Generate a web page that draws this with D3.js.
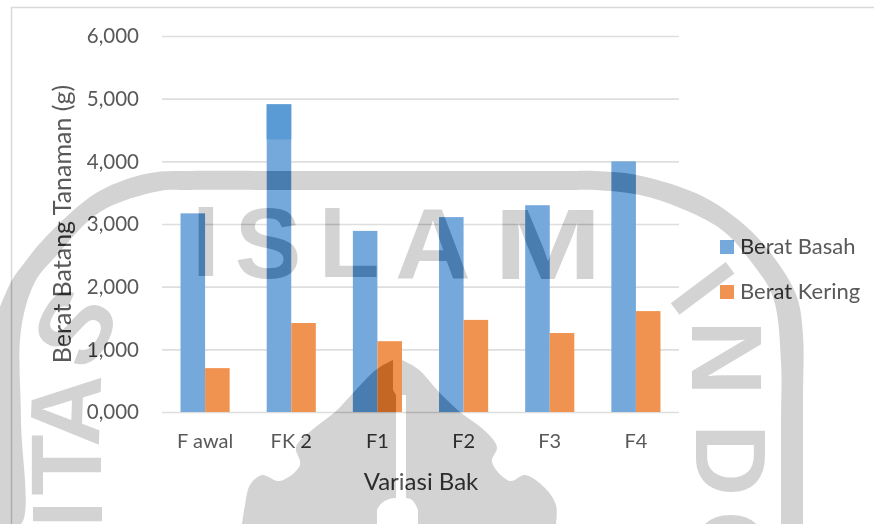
<!DOCTYPE html>
<html>
<head>
<meta charset="utf-8">
<script src="https://cdn.jsdelivr.net/npm/d3@7"></script>
<style>
  html, body { margin: 0; padding: 0; background: #fff; overflow: hidden; }
  svg { display: block; }
  text { font-family: Lato, "Open Sans", sans-serif; fill: #595959; }
</style>
</head>
<body>
<div id="chart"></div>
<script>
const categories = ["F awal", "FK 2", "F1", "F2", "F3", "F4"];
const seriesNames = ["Berat Basah", "Berat Kering"];
const beratBasah = [3.17, 4.91, 2.89, 3.11, 3.30, 4.00];
const beratKering = [0.70, 1.42, 1.13, 1.47, 1.26, 1.61];
const yTicks = [0, 1, 2, 3, 4, 5, 6];

const width = 874, height = 524;
const margin = { top: 36, right: 195, bottom: 112, left: 162 };

const svg = d3.select("#chart")
    .append("svg")
    .attr("width", width)
    .attr("height", height);

svg.append("rect").attr("width", width).attr("height", height).attr("fill", "#fff");

// chart frame, runs off the page on the right and at the bottom
svg.append("path")
    .attr("d", `M11.5,${height} V7.5 H${width}`)
    .attr("fill", "none")
    .attr("stroke", "#d9d9d9")
    .attr("stroke-width", 1.5);

const x = d3.scaleBand()
    .domain(categories)
    .range([margin.left, width - margin.right])
    .paddingInner(0.43)
    .paddingOuter(0.215);

const xSeries = d3.scaleBand()
    .domain(seriesNames)
    .range([0, x.bandwidth()]);

const y = d3.scaleLinear()
    .domain([0, 6])
    .range([height - margin.bottom, margin.top]);

const color = d3.scaleOrdinal()
    .domain(seriesNames)
    .range(["#75a9dc", "#f09250"]);

// decimal comma on the ticks
const fmt = d3.formatLocale({ decimal: ",", thousands: ".", grouping: [3], currency: ["", ""] }).format(".3f");

// gridlines
const yAxis = svg.append("g")
    .attr("transform", `translate(${margin.left},0)`)
    .call(d3.axisLeft(y).tickValues(yTicks).tickFormat(fmt).tickSize(-(width - margin.left - margin.right)).tickPadding(23));
yAxis.select(".domain").remove();
yAxis.selectAll("line").attr("stroke", "#dedede").attr("stroke-width", 1.6);
yAxis.selectAll("text").style("font-size", "20.5px").attr("dy", "0.34em");

const xAxis = svg.append("g")
    .attr("transform", `translate(0,${y(0)})`)
    .call(d3.axisBottom(x).tickSize(0).tickPadding(22));
xAxis.select(".domain").remove();
xAxis.selectAll("text").style("font-size", "20px").attr("dy", "0.68em");

// bars
const groups = svg.append("g")
    .selectAll("g")
    .data(categories)
    .enter()
    .append("g")
    .attr("transform", d => `translate(${x(d)},0)`);

groups.selectAll("rect")
    .data((d, i) => [
        { name: seriesNames[0], value: beratBasah[i] },
        { name: seriesNames[1], value: beratKering[i] }
    ])
    .enter()
    .append("rect")
    .attr("x", d => xSeries(d.name))
    .attr("y", d => y(d.value))
    .attr("width", xSeries.bandwidth())
    .attr("height", d => y(0) - y(d.value))
    .attr("fill", d => color(d.name));

// darker top part of the FK 2 bar, as in the scan
svg.append("rect")
    .attr("x", x("FK 2"))
    .attr("y", y(beratBasah[1]))
    .attr("width", xSeries.bandwidth())
    .attr("height", 35)
    .attr("fill", "#5b9bd5");

// axis titles
svg.append("text")
    .attr("x", 421)
    .attr("y", 490)
    .attr("text-anchor", "middle")
    .style("font-size", "24px")
    .text("Variasi Bak");

svg.append("text")
    .attr("transform", "translate(71,224) rotate(-90)")
    .attr("text-anchor", "middle")
    .style("font-size", "25px")
    .text("Berat Batang Tanaman (g)");

// legend
const legend = svg.append("g")
    .selectAll("g")
    .data(seriesNames)
    .enter()
    .append("g")
    .attr("transform", (d, i) => `translate(720,${240 + i * 45})`);

legend.append("rect")
    .attr("width", 14)
    .attr("height", 14)
    .attr("fill", d => color(d));

legend.append("text")
    .attr("x", 20)
    .attr("y", 14)
    .style("font-size", "22px")
    .text(d => d);

// university watermark. difference with a dark grey acts as a linear burn
const mark = svg.append("g").style("mix-blend-mode", "difference");
const markFill = "#2c2c2c";
const smooth = d3.line().curve(d3.curveCatmullRom);

const ringOuter = [[0, 307], [12, 280], [25, 262], [43, 240], [93, 195], [130, 178], [157, 172], [190, 171], [300, 171], [450, 171], [570, 171], [594, 171], [637, 175], [704, 197], [750, 230], [778, 263], [797, 297], [803, 335], [803, 400], [803, 524]];
const ringInner = [[781, 524], [781, 420], [781, 362], [773, 297], [752, 263], [722, 230], [680, 208], [640, 195], [594, 190], [570, 190], [450, 190], [300, 190], [190, 190], [160, 191], [100, 212], [57, 255], [35, 282], [21, 330], [21, 420], [21, 524], [0, 524]];
mark.append("path").attr("d", smooth(ringOuter) + "L" + smooth(ringInner).slice(1) + "Z").attr("fill", markFill);

const emblemLeft = [[393, 360], [377, 369], [353, 393], [335, 412], [312, 430], [296, 447], [300, 465], [280, 481], [262, 475], [250, 485], [245, 505], [242, 524]];
const emblemRight = [[402, 360], [418, 369], [440, 393], [460, 412], [484, 430], [497, 447], [492, 462], [510, 481], [525, 475], [545, 488], [556, 505], [556, 524]];
mark.append("path")
    .attr("d", smooth(emblemLeft) + "L377,524 L377,510 C380,502 388,498 396,498 L396,395 L393,390 Z")
    .attr("fill", markFill);
mark.append("path")
    .attr("d", smooth(emblemRight) + "L418,524 L418,510 C415,502 412,498 406,498 L406,395 L402,395 Z")
    .attr("fill", markFill);

const markLetters = [
    ["I", 206, 241, 0, 1], ["S", 268, 243, 0, 1], ["L", 349, 242, 0, 1], ["A", 433, 244, 0, 1.05], ["M", 548, 244, 0, 1.3],
    ["S", 75, 327, -60, 1.05], ["A", 65, 410, -88, 1], ["T", 66, 465, -90, 1], ["I", 67, 514, -90, 1],
    ["I", 703, 288, 53, 1], ["N", 727, 358, 90, 1.05], ["D", 731, 460, 90, 1], ["O", 731, 550, 90, 1]
];
mark.selectAll("text")
    .data(markLetters)
    .enter()
    .append("text")
    .attr("transform", d => `translate(${d[1]},${d[2]}) rotate(${d[3]}) scale(${d[4]},1)`)
    .attr("text-anchor", "middle")
    .attr("dy", "0.35em")
    .style("font-family", "'Liberation Sans', sans-serif")
    .style("font-weight", "bold")
    .style("font-size", "100px")
    .style("fill", markFill)
    .text(d => d[0]);
</script>
</body>
</html>
